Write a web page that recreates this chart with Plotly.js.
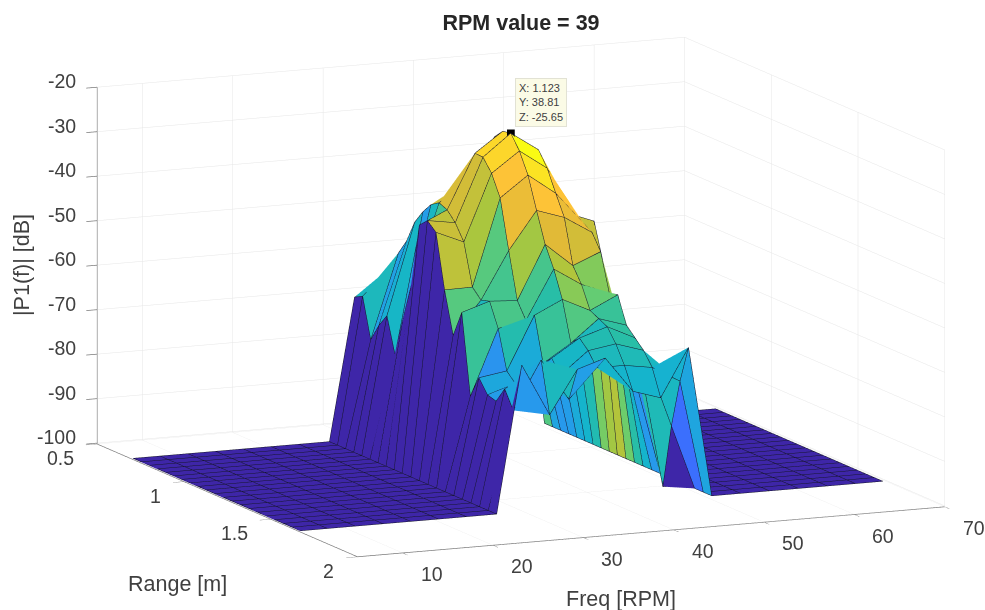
<!DOCTYPE html>
<html><head><meta charset="utf-8">
<script src="https://cdn.plot.ly/plotly-3.0.1.min.js"></script>
<style>html,body{margin:0;padding:0;background:#fff}#plot{width:985px;height:610px}</style>
</head><body><div id="plot"></div>
<script>
const freqValues=[5,8.07,11.15,14.22,17.29,20.37,23.44,26.8,29.58,32.66,35.73,38.81,41.88,44.95,48.03,50.6,53.8,57,60.2,63.4,66.5,69.54];
const rangeValues=[0.703,0.7497,0.7964,0.8431,0.8898,0.9365,0.9832,1.0299,1.0765,1.123,1.1725,1.222,1.2715,1.321,1.3705,1.42,1.4695,1.519,1.5685,1.618,1.667];
const floorColumn=[-100,-100,-100,-100,-100,-100,-100,-100,-100,-100,-100,-100,-100,-100,-100,-100,-100,-100,-100,-100,-100];
const c8=[-68,-67,-76,-72,-69,-77,-68,-60,-45.5,-43.7,-45.5,-57.6,-67,-61,-79,-74,-77,-77.6,-74,-78,-67];
const c9=[-65,-61,-57,-53.5,-48.5,-45.4,-43,-41.8,-42.6,-44.7,-48.2,-57.5,-59.6,-59,-64.3,-73,-75,-73.6,-71,-67.2,-78.7];
const c10=[-60,-58,-56,-53,-50,-47,-43.2,-37.4,-30.4,-30.5,-33.3,-38,-49,-59.4,-63,-61,-71,-69,-72,-76.6,-69];
const c11=[-52,-50,-48,-45,-42,-38,-33,-28,-26,-25.65,-28.8,-33.4,-40.5,-47.3,-52,-58,-67,-65,-67,-70,-67];
const c12=[-60,-58,-55,-52,-48,-44,-40,-35,-31,-29.9,-33.2,-38,-42.6,-52.6,-56,-61,-62,-63,-66,-70,-75];
const c13=[-66,-64,-62,-60,-58,-55,-51,-48,-46,-44.6,-44.7,-45.3,-46.5,-50,-58.4,-58,-64,-66,-68,-71,-77];
const c14=[-58,-75,-78,-77,-73,-70,-65,-54,-49,-47,-55,-63,-70,-78,-80,-82,-85,-100,-85.5,-74.6,-66.2];
const zColumns=[floorColumn,floorColumn,floorColumn,floorColumn,floorColumn,floorColumn,floorColumn,floorColumn,c8,c9,c10,c11,c12,c13,c14,floorColumn,floorColumn,floorColumn,floorColumn,floorColumn,floorColumn,floorColumn];
const rangeTicks=[0.5,1,1.5,2], rangeLabels=['0.5','1','1.5','2'];
const freqTicks=[10,20,30,40,50,60,70], freqLabels=['10','20','30','40','50','60','70'];
const zTicks=[-100,-90,-80,-70,-60,-50,-40,-30,-20], zLabels=['-100','-90','-80','-70','-60','-50','-40','-30','-20'];
const parula=[[62,38,168],[71,70,235],[58,113,254],[38,155,235],[20,180,205],[40,190,166],[105,205,110],[172,198,60],[225,186,55],[254,195,55],[249,251,20]];
function colorOf(z){
  let t=Math.max(0,Math.min(1,(z+100)/74.35))*10, a=Math.min(9,Math.floor(t)), f=t-a;
  const p=parula[a],q=parula[a+1];
  return 'rgb('+[0,1,2].map(n=>Math.round(p[n]+(q[n]-p[n])*f)).join(',')+')';
}
const nF=freqValues.length,nR=rangeValues.length;
const X=[],Y=[],Z=[],I=[],J=[],K=[],FC=[];
const id=(a,b)=>a*nR+b;
for(let a=0;a<nF;a++)for(let b=0;b<nR;b++){X.push(rangeValues[b]);Y.push(freqValues[a]);Z.push(zColumns[a][b]);}
for(let a=0;a<nF-1;a++)for(let b=0;b<nR-1;b++){
  const col=colorOf(zColumns[a][b]);
  I.push(id(a,b),id(a,b));J.push(id(a+1,b),id(a+1,b+1));K.push(id(a+1,b+1),id(a,b+1));FC.push(col,col);
}
const az=66.1*Math.PI/180,el=11.07*Math.PI/180,d=1.5,zoom=2.163;
// grid lines are pulled a hair toward the viewer so they stay in front of their own faces
const eps=0.004;
const nudgeR=eps*Math.sin(az)*Math.cos(el)*1.5, nudgeF=-eps*Math.cos(az)*Math.cos(el)*65, nudgeZ=eps*Math.sin(el)*80/0.566;
const lx=[],ly=[],lz=[];
const pushPoint=(a,b)=>{lx.push(rangeValues[b]+nudgeR);ly.push(Math.max(5,freqValues[a]+nudgeF));lz.push(zColumns[a][b]+nudgeZ);};
const breakLine=()=>{lx.push(null);ly.push(null);lz.push(null);};
for(let a=0;a<nF;a++){for(let b=0;b<nR;b++)pushPoint(a,b);breakLine();}
for(let b=0;b<nR;b++){for(let a=0;a<nF;a++)pushPoint(a,b);breakLine();}
const mesh={type:'mesh3d',x:X,y:Y,z:Z,i:I,j:J,k:K,facecolor:FC,flatshading:true,hoverinfo:'skip',showscale:false,
  lighting:{ambient:1,diffuse:0,specular:0,roughness:1,fresnel:0},lightposition:{x:0,y:0,z:1000}};
const edges={type:'scatter3d',mode:'lines',x:lx,y:ly,z:lz,line:{color:'#15152a',width:1},hoverinfo:'skip',showlegend:false};
const tipMark={type:'scatter3d',mode:'markers',x:[1.123],y:[38.81],z:[-25.65],marker:{symbol:'square',size:4,color:'#000'},hoverinfo:'skip',showlegend:false};
const axisBase={showbackground:false,gridcolor:'#e6e6e6',gridwidth:1,zeroline:false,showspikes:false,showline:true,linecolor:'#7a7a7a',linewidth:1.5,
  ticks:'outside',ticklen:12,tickcolor:'#7a7a7a',tickwidth:1.5,showticklabels:false,title:{text:''}};
const fam='"Liberation Sans",Arial,sans-serif';
const tf={family:fam,size:21.5,color:'#404040'}, tickFont={family:fam,size:19.5,color:'#404040'};
const tickNote=(x,y,z,text,xanchor,xshift,yshift)=>({x,y,z,text,showarrow:false,xanchor,yanchor:'middle',xshift,yshift,font:tickFont});
const sceneNotes=[
  ...zTicks.map((v,n)=>tickNote(0.5,5,v,zLabels[n],'right',-19,6)),
  ...rangeTicks.map((v,n)=>tickNote(v,5,-100,rangeLabels[n],'right',-21,-15)),
  ...freqTicks.map((v,n)=>tickNote(2,v,-100,freqLabels[n],'center',29,-22))
];
const layout={width:985,height:610,margin:{l:0,r:0,t:0,b:0},paper_bgcolor:'#fff',showlegend:false,
  title:{text:'<b>RPM value = 39</b>',x:521/985,xanchor:'center',y:1-22/610,yanchor:'middle',font:{family:fam,size:21.5,color:'#262626'}},
  scene:{domain:{x:[57/985,1],y:[16/610,1]},aspectmode:'manual',aspectratio:{x:zoom,y:zoom,z:0.566*zoom},
    camera:{projection:{type:'orthographic'},up:{x:0,y:0,z:1},center:{x:0,y:0,z:0},
      eye:{x:d*Math.sin(az)*Math.cos(el),y:-d*Math.cos(az)*Math.cos(el),z:d*Math.sin(el)}},
    xaxis:Object.assign({},axisBase,{range:[0.5,2],tickvals:rangeTicks,ticktext:rangeLabels}),
    yaxis:Object.assign({},axisBase,{range:[5,70],tickvals:freqTicks,ticktext:freqLabels}),
    zaxis:Object.assign({},axisBase,{range:[-100.2,-20],tickvals:zTicks,ticktext:zLabels}),
    annotations:sceneNotes},
  annotations:[
    {xref:'paper',yref:'paper',x:177/985,y:1-584/610,xanchor:'center',yanchor:'middle',text:'Range [m]',showarrow:false,font:tf},
    {xref:'paper',yref:'paper',x:621/985,y:1-599/610,xanchor:'center',yanchor:'middle',text:'Freq [RPM]',showarrow:false,font:tf},
    {xref:'paper',yref:'paper',x:22/985,y:1-265/610,xanchor:'center',yanchor:'middle',text:'|P1(f)| [dB]',textangle:-90,showarrow:false,font:tf},
    {xref:'paper',yref:'paper',x:541/985,y:1-102/610,xanchor:'center',yanchor:'middle',text:'X: 1.123<br>Y: 38.81<br>Z: -25.65',align:'left',showarrow:false,bgcolor:'#fbfbe6',bordercolor:'#e2e2d4',borderwidth:1,borderpad:3,font:{family:fam,size:11,color:'#404040'}}
  ]};
Plotly.newPlot('plot',[mesh,edges,tipMark],layout,{displayModeBar:false});
</script></body></html>
